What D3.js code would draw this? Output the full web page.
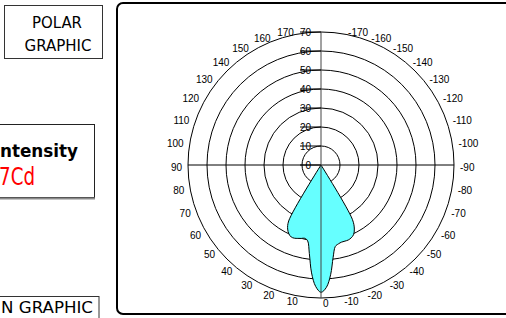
<!DOCTYPE html>
<html>
<head>
<meta charset="utf-8">
<script src="https://cdn.jsdelivr.net/npm/d3@7"></script>
<style>
  body { margin: 0; background: #fff; }
  svg { display: block; }
</style>
</head>
<body>
<div id="chart"></div>
<script>
// ── Data ───────────────────────────────────────────────────────────────────────

// angle in degrees: 0 = straight down, positive = left side, negative = right side
const beamAngles = [35, 30, 27.5, 25, 22.5, 20, 17.5, 15, 12.5, 10, 7.5, 5, 2.5, 0,
                    -2.5, -5, -7.5, -10, -12.5, -15, -17.5, -20, -22.5, -25, -27.5, -30, -35];
const beamValues = [0, 34, 38, 40, 41, 41, 40.5, 40, 39.5, 40.5, 47, 57, 64, 67,
                    64.5, 58, 49, 43.5, 42.5, 42, 42, 42, 41.5, 40.5, 38, 33, 0];

const ringValues = [10, 20, 30, 40, 50, 60, 70];
const valueTicks = [0, 10, 20, 30, 40, 50, 60, 70];
const angleTicks = [0, 10, 20, 30, 40, 50, 60, 70, 80, 90, 100, 110, 120, 130, 140, 150, 160, 170,
                    -170, -160, -150, -140, -130, -120, -110, -100, -90, -80, -70, -60, -50, -40, -30, -20, -10];

// ── Layout ─────────────────────────────────────────────────────────────────────

const W = 506, H = 318;
const cx = 321, cy = 165, R = 133;
const rad = d => d * Math.PI / 180;
const theta = a => Math.PI + rad(a);   // d3 radial angle (0 = up, clockwise)

const r = d3.scaleLinear().domain([0, 70]).range([0, R]);

const svg = d3.select("#chart").append("svg")
    .attr("width", W)
    .attr("height", H)
    .style("background", "#fff");

// ── Left side panels ───────────────────────────────────────────────────────────

const side = svg.append("g").attr("font-family", "'DejaVu Sans', Tahoma, sans-serif");

side.append("rect")
    .attr("x", 4.5).attr("y", 5.5).attr("width", 98).attr("height", 53)
    .attr("fill", "#fff").attr("stroke", "#333").attr("stroke-width", 1);
side.append("text").attr("x", 57).attr("y", 28).attr("text-anchor", "middle")
    .attr("font-size", 16).attr("textLength", 50).attr("lengthAdjust", "spacingAndGlyphs")
    .text("POLAR");
side.append("text").attr("x", 58).attr("y", 51).attr("text-anchor", "middle")
    .attr("font-size", 16).attr("textLength", 67).attr("lengthAdjust", "spacingAndGlyphs")
    .text("GRAPHIC");

side.append("rect")
    .attr("x", -10).attr("y", 124.5).attr("width", 104.5).attr("height", 73)
    .attr("fill", "#fff").attr("stroke", "#222").attr("stroke-width", 1);
side.append("line")
    .attr("x1", -10).attr("x2", 95).attr("y1", 198.5).attr("y2", 198.5)
    .attr("stroke", "#8a8a8a").attr("stroke-width", 2);
side.append("text").attr("x", 0).attr("y", 157)
    .attr("font-size", 17).attr("font-weight", "bold")
    .attr("textLength", 78).attr("lengthAdjust", "spacingAndGlyphs")
    .text("ntensity");
side.append("text").attr("x", -1).attr("y", 185)
    .attr("font-size", 25).attr("fill", "#ff0000")
    .attr("textLength", 36).attr("lengthAdjust", "spacingAndGlyphs")
    .text("7Cd");

side.append("rect")
    .attr("x", -10).attr("y", 296.5).attr("width", 109).attr("height", 30)
    .attr("fill", "#fff").attr("stroke", "#333").attr("stroke-width", 1);
side.append("text").attr("x", 93).attr("y", 313).attr("text-anchor", "end")
    .attr("font-size", 15).attr("textLength", 92).attr("lengthAdjust", "spacingAndGlyphs")
    .text("N GRAPHIC");

// ── Chart frame ────────────────────────────────────────────────────────────────

svg.append("rect")
    .attr("x", 117).attr("y", 3).attr("width", 400).attr("height", 311)
    .attr("rx", 6).attr("ry", 6)
    .attr("fill", "#fff").attr("stroke", "#000").attr("stroke-width", 2);

// ── Polar grid ─────────────────────────────────────────────────────────────────

const plot = svg.append("g").attr("transform", `translate(${cx},${cy})`);

plot.selectAll(".ring")
    .data(ringValues)
    .enter()
    .append("circle")
    .attr("class", "ring")
    .attr("r", d => r(d))
    .attr("fill", "none")
    .attr("stroke", "#000")
    .attr("stroke-width", 1);

// ── Intensity curve ────────────────────────────────────────────────────────────

const beam = beamAngles.map((a, i) => ({ a, v: beamValues[i] }));

const radial = d3.lineRadial()
    .angle(d => theta(d.a))
    .radius(d => r(d.v))
    .curve(d3.curveCatmullRom.alpha(0.5));

plot.append("path")
    .attr("d", radial(beam) + "Z")
    .attr("fill", "#66ffff")
    .attr("stroke", "#000")
    .attr("stroke-width", 1)
    .attr("stroke-linejoin", "round");

// axes
plot.append("line")
    .attr("x1", -R).attr("x2", R).attr("y1", 0).attr("y2", 0)
    .attr("stroke", "#000").attr("stroke-width", 1);
plot.append("line")
    .attr("x1", 0).attr("x2", 0).attr("y1", -R).attr("y2", R)
    .attr("stroke", "#444").attr("stroke-width", 1);

// ── Labels ─────────────────────────────────────────────────────────────────────

const labels = plot.append("g")
    .attr("font-family", "'Liberation Sans', Arial, sans-serif")
    .attr("font-size", 10)
    .attr("fill", "#000");

// value axis: ticks crossing the labels
labels.selectAll(".vtick")
    .data(valueTicks)
    .enter()
    .append("line")
    .attr("x1", -21).attr("x2", 0)
    .attr("y1", d => -r(d)).attr("y2", d => -r(d))
    .attr("stroke", "#000").attr("stroke-width", 1);

labels.selectAll(".vlabel")
    .data(valueTicks)
    .enter()
    .append("text")
    .attr("x", -10)
    .attr("y", d => -r(d) + 3.5)
    .attr("text-anchor", "end")
    .text(d => d);

// angle labels round the outer ring
labels.selectAll(".alabel")
    .data(angleTicks)
    .enter()
    .append("text")
    .attr("x", d => {
        const c = Math.cos(rad(Math.abs(d)));
        const push = c < 0 ? -3 * c : -1 * c;
        const x = (R + 6) * Math.sin(theta(d));
        if (d > 0) return x - push;
        if (d < 0) return x + push;
        return 2;
    })
    .attr("y", d => {
        const c = Math.cos(rad(Math.abs(d)));
        return -(R + 6) * Math.cos(theta(d)) + 2 - 2.5 * c + 3.5;
    })
    .attr("text-anchor", d => d > 0 ? "end" : "start")
    .text(d => d);
</script>
</body>
</html>
